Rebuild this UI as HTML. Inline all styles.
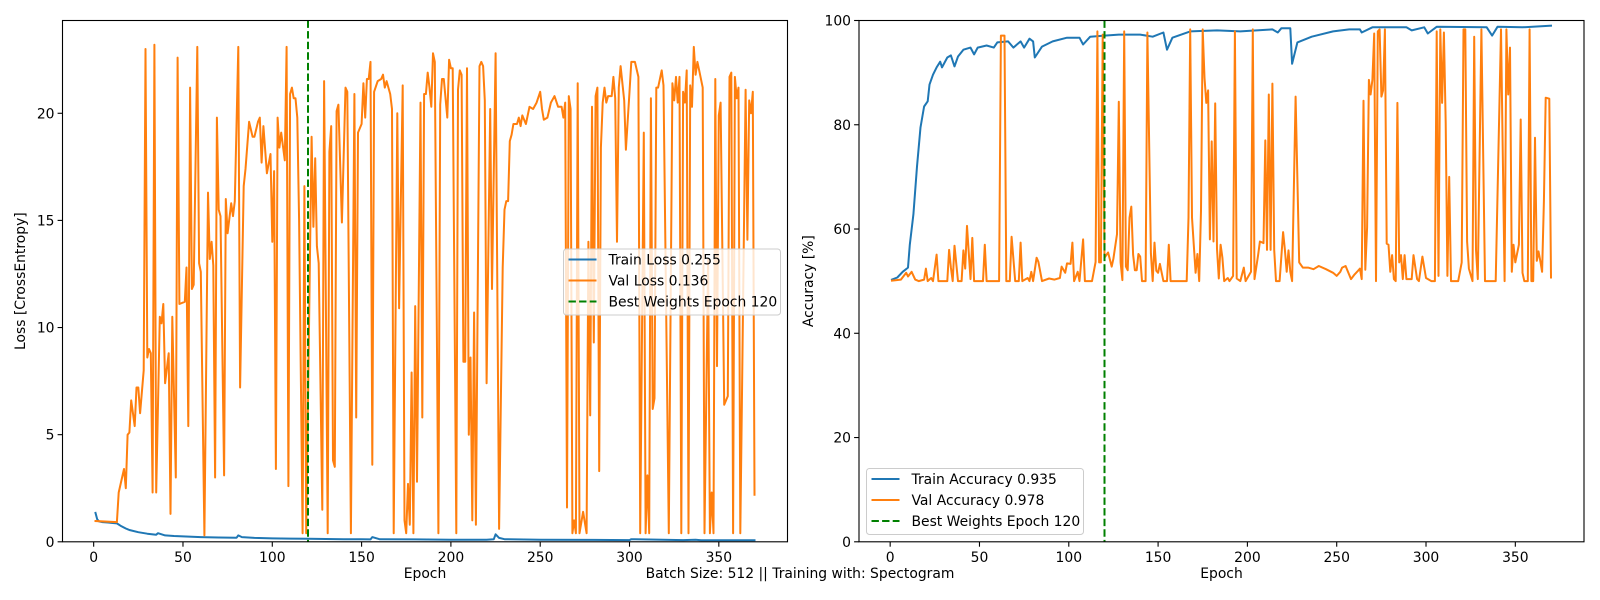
<!DOCTYPE html>
<html><head><meta charset="utf-8"><style>
html,body{margin:0;padding:0;background:#fff;}
svg{display:block;font-family:"DejaVu Sans","Liberation Sans",sans-serif;}
</style></head><body>
<svg id="chart" width="1600" height="600" viewBox="0 0 1600 600" xmlns="http://www.w3.org/2000/svg"></svg>
<script>
// ===== Left chart data (loss) =====
const trainLossEpochs=[1,2,3,5,8,10,13,15,18,20,25,30,35,36,40,45,50,60,70,80,81,83,90,100,110,120,130,140,150,155,156,160,180,200,220,224,225,227,230,250,280,300,301,330,337,340,370];
const trainLossValues=[1.35,1.05,0.95,0.92,0.9,0.88,0.86,0.75,0.62,0.55,0.45,0.38,0.33,0.4,0.3,0.27,0.25,0.22,0.2,0.19,0.3,0.22,0.18,0.16,0.15,0.14,0.13,0.12,0.12,0.11,0.22,0.12,0.11,0.1,0.1,0.12,0.35,0.18,0.12,0.1,0.09,0.08,0.12,0.08,0.1,0.07,0.07];
const valLossEpochs=[1,13,14,17,18,19,20,21,23,24,25,26,28,29,30,31,32,33,34,35,37,38,39,40,42,43,44,46,47,48,51,52,53,54,55,56,58,59,60,62,64,65,66,67,68,69,70,71,73,74,75,77,78,79,81,82,84,85,87,89,90,92,93,94,95,97,99,100,101,102,103,104,105,107,108,109,110,111,112,113,114,115,117,118,119,122,123,124,125,126,128,129,131,132,133,134,135,136,137,139,141,142,144,146,147,148,150,151,152,153,154,155,156,157,159,161,162,163,164,166,167,168,170,171,173,174,175,176,177,178,179,180,181,183,184,185,186,187,188,189,190,191,193,194,195,196,198,199,200,201,203,204,205,206,207,208,209,210,211,212,213,214,216,217,218,219,220,222,223,225,227,229,230,231,232,233,234,235,237,238,239,240,242,244,246,248,250,251,252,254,256,258,260,262,263,264,265,266,267,268,269,270,271,272,274,276,277,278,279,280,281,282,283,284,285,286,287,288,290,291,292,293,294,295,297,298,300,301,303,305,306,308,309,310,311,312,313,314,315,316,318,319,322,324,325,326,327,328,329,330,331,332,333,334,335,336,337,338,339,341,342,344,345,346,347,348,349,350,351,353,355,356,357,358,359,360,361,362,363,365,366,367,368,369,370];
const valLossValues=[0.97,0.92,2.3,3.4,2.5,5.0,5.1,6.6,5.4,7.2,7.2,6.0,8.0,23.0,8.6,9.0,8.8,2.3,23.2,2.3,10.5,10.2,11.1,7.4,8.8,1.3,10.5,3.0,22.6,11.1,11.2,12.8,5.4,21.2,11.8,12.0,23.1,13.0,12.6,0.3,16.3,13.2,14.0,12.9,3.0,19.8,15.5,15.2,3.1,16.0,14.4,15.8,15.2,15.9,23.1,7.2,16.6,17.4,19.6,18.9,18.9,19.6,19.8,17.7,19.4,17.2,18.1,14.0,17.3,3.4,19.8,18.4,19.1,17.8,23.1,2.6,20.9,21.2,20.7,20.7,19.8,15.0,0.4,16.6,0.4,18.9,14.7,17.9,13.8,13.0,1.5,21.5,0.4,18.2,19.4,3.8,3.5,20.1,20.4,14.9,21.2,21.0,0.4,20.9,5.8,19.1,19.5,21.4,19.8,21.6,21.6,22.4,3.6,21.0,21.5,21.6,21.8,21.2,21.5,20.9,20.2,0.4,20.0,10.9,21.3,1.0,0.4,2.7,0.8,7.9,0.4,11.0,2.8,20.5,5.8,20.9,20.9,21.9,21.2,20.3,22.8,22.4,0.4,20.4,21.6,21.6,19.8,22.5,22.1,22.1,0.4,21.1,22.0,21.8,8.4,8.4,22.1,5.0,8.6,1.0,10.7,0.8,22.2,22.4,22.2,20.6,7.4,20.2,11.8,22.8,0.6,12.8,15.5,15.9,15.9,18.7,19.0,19.5,19.5,19.8,19.4,19.9,19.5,20.3,20.2,20.5,21.0,20.2,19.7,19.8,20.5,20.8,20.3,20.3,19.8,20.5,1.6,20.8,20.2,0.4,1.0,0.4,21.4,0.4,1.4,0.4,14.0,5.9,20.3,9.3,20.8,21.2,3.3,18.4,20.5,21.2,20.5,20.8,20.8,21.7,20.7,14.0,21.2,22.2,20.6,18.3,21.0,22.4,22.4,21.7,0.4,19.1,0.4,3.1,0.4,20.7,6.2,6.7,21.2,21.2,22.0,21.3,0.4,21.4,20.6,21.7,20.5,21.7,0.4,21.0,20.5,22.0,0.4,21.3,20.3,23.1,21.8,22.4,22.0,21.2,0.4,13.2,0.4,2.3,0.4,21.6,8.2,19.9,20.5,6.4,6.8,21.7,21.9,0.4,21.7,20.7,21.2,0.4,6.9,21.1,14.1,20.6,20.0,21.0,2.2];
const lossTicks=[0,5,10,15,20];
const epochTicks=[0,50,100,150,200,250,300,350];
const bestEpoch=[120];
// ===== Right chart data (accuracy) =====
const trainAccEpochs=[1,4,7,10,11,13,15,17,19,21,22,24,26,28,29,32,34,36,38,41,45,47,49,54,58,60,66,69,73,75,78,80,81,85,91,99,106,108,112,120,128,140,147,153,155,158,168,183,196,214,217,219,224,225,228,236,248,257,263,264,270,289,292,299,301,306,334,337,340,354,370];
const trainAccValues=[50.3,50.7,51.8,52.6,57,62.8,72,79.5,83.5,84.5,87.7,89.6,91,92.1,91,92.9,93.3,91.2,93.1,94.4,94.8,93.5,94.8,95.2,94.8,95.8,96,94.8,96,94.8,96.5,96,92.9,95,96,96.7,96.7,95.4,96.9,97.1,97.3,97.3,96.9,97.7,94.4,96.7,97.9,98.1,97.9,98.3,97.7,98.5,98.5,91.7,95.8,96.9,97.9,98.3,98.3,97.7,98.7,98.7,98.1,98.7,97.5,98.8,98.7,97.1,98.8,98.7,99.0];
const valAccEpochs=[1,6,9,10,12,14,16,19,20,21,23,24,26,27,32,33,34,35,36,38,40,41,42,43,45,46,47,52,53,54,61,62,64,65,67,68,70,72,73,74,77,78,79,80,82,83,85,89,92,95,96,98,99,101,102,103,105,106,108,109,113,115,116,117,118,119,120,122,124,125,127,128,129,130,131,132,133,134,135,136,137,138,139,140,141,143,144,146,147,148,149,150,151,152,153,155,156,157,166,167,168,169,171,172,173,174,175,176,177,178,179,180,181,182,183,184,185,186,187,189,190,192,193,194,196,198,199,202,203,204,206,207,209,210,211,212,213,214,215,216,218,220,221,222,223,224,225,227,229,231,234,237,240,244,248,250,252,253,255,258,260,262,263,264,265,266,267,268,269,270,271,272,273,274,275,276,277,278,279,280,281,282,283,284,285,286,287,288,289,292,293,295,296,298,300,303,305,306,307,308,309,310,311,312,313,314,318,320,321,322,323,324,326,327,328,329,331,333,339,342,344,345,346,347,348,349,350,352,353,354,355,357,358,359,360,361,362,363,364,365,366,367,369,370];
const valAccValues=[50.1,50.3,51.6,50.9,51.8,50.3,50,50.3,52.4,50,50.6,50,55.1,50,50,56,52.6,50,56.8,50,50,55.9,52.4,60.6,50.4,58.3,50,50,57,50,50,97.1,97.1,50,50,58.5,50,50,57.4,50,50.6,50,51.8,50,54.5,53.7,50,50.5,50.3,50.6,52.8,51.6,53.4,53.3,57.4,50,51.8,50,58,50,50,53.7,97.9,53.6,53.6,97.3,54.5,55.5,52.8,54.3,59,84.4,53.6,50.2,97.9,52.8,52.1,62.2,64.3,55.1,52.1,52.1,55.2,54.7,50,50,97.7,55.3,50,57.4,52,51.6,53.3,51.6,50,50,57,50,50,62.2,98.3,62.2,51.6,55.2,50,63.5,98.3,89,84.2,86.6,58,76.8,57.6,84.1,56.2,50.5,57,54.5,50,50.6,50,51,97.9,50.5,50,52.6,50,51.8,98.3,50.4,55,57.6,57.3,77,56,85.8,56,87.9,56,50,50,59.4,56,51.8,55.9,51.8,50,85.4,53.6,52.6,52.6,52.3,52.9,52.3,51.6,51,51.8,52.6,52.9,50.4,51.3,52,52.4,50.4,84.6,52.2,60.3,88.6,85.8,88.6,97.5,50,97.9,98.3,85.4,86.6,98.3,57.2,57,51.8,55,50.4,50,84.2,53.6,55,50.4,55,50.4,50.4,55,50.4,50,54.7,50.6,50,50,97.9,51,98.3,84.2,97.7,80.4,51,70,50,50,53.6,98.3,98.3,57.6,52.4,50,96.9,56,50.4,98.3,50,50,98.3,50,98.3,85.8,94.8,51.8,57,53.6,57,81,51.6,50,50,98.3,50,50,77.5,53.9,55.7,53.9,51.8,65.3,85.2,85,50.7];
const accTicks=[0,20,40,60,80,100];

const NS='http://www.w3.org/2000/svg';
const svg=document.getElementById('chart');
function mk(tag,attrs,parent){const e=document.createElementNS(NS,tag);for(const k in attrs)e.setAttribute(k,attrs[k]);(parent||svg).appendChild(e);return e;}

function drawPanel(cfg){
  const L=cfg.left,R=cfg.left+725,T=20.5,B=541.8;
  const g=mk('g',{});
  
  
  const xs=v=>L+(v-(-17.45))/(388.45+17.45)*(R-L);
  const ys=v=>B-(v-cfg.ymin)/(cfg.ymax-cfg.ymin)*(B-T);
  const clip=mk('clipPath',{id:cfg.name+'-clip'},g);
  mk('rect',{x:L,y:T,width:R-L,height:B-T},clip);
  const plot=mk('g',{'clip-path':'url(#'+cfg.name+'-clip)'},g);
  
  
  cfg.series.forEach(s=>{
    const pts=s.x.map((e,i)=>xs(e).toFixed(1)+','+ys(s.y[i]).toFixed(1)).join(' ');
    const pl=mk('polyline',{points:pts,fill:'none',stroke:s.color,'stroke-width':2,'stroke-linejoin':'round','stroke-linecap':'square'},plot);
    
    
  });
  bestEpoch.forEach(b=>{
    const ln=mk('line',{x1:xs(b),x2:xs(b),y1:T,y2:B,stroke:'#008000','stroke-width':2,'stroke-dasharray':'7.4,3.2'},plot);
    
    
  });
  const fr=mk('rect',{x:L,y:T,width:R-L,height:B-T,fill:'none',stroke:'#000','stroke-width':1.1},g);
  
  
  epochTicks.forEach(t=>{
    const x=xs(t);
    mk('line',{x1:x,x2:x,y1:B,y2:B+4.9,stroke:'#000','stroke-width':1.1},g);
    const tx=mk('text',{x:x,y:B+20,'text-anchor':'middle','font-size':13.9,fill:'#000'},g);
    tx.textContent=t;
    
    
  });
  cfg.yticks.forEach(t=>{
    const y=ys(t);
    mk('line',{x1:L-4.9,x2:L,y1:y,y2:y,stroke:'#000','stroke-width':1.1},g);
    const tx=mk('text',{x:L-8,y:y+5,'text-anchor':'end','font-size':13.9,fill:'#000'},g);
    tx.textContent=t;
    
    
  });
  const xl=mk('text',{x:(L+R)/2,y:578,'text-anchor':'middle','font-size':13.9},g);
  xl.textContent='Epoch';
  
  
  const yl=mk('text',{x:0,y:0,'text-anchor':'middle','font-size':13.9,transform:'translate('+cfg.ylabelX+','+((T+B)/2)+') rotate(-90)'},g);
  yl.textContent=cfg.ylabel;
  
  
  const lg=mk('g',{},g);
  
  
  const lx=cfg.legend.x,ly=cfg.legend.y;
  mk('rect',{x:lx,y:ly,width:cfg.legend.w,height:66,rx:3,fill:'#fff','fill-opacity':0.8,stroke:'#ccc','stroke-width':1},lg);
  cfg.legend.items.forEach((it,i)=>{
    const yy=ly+10.5+i*21;
    const h=mk('line',{x1:lx+5,x2:lx+33,y1:yy,y2:yy,stroke:it.color,'stroke-width':2},lg);
    if(it.dash)h.setAttribute('stroke-dasharray','7.4,3.2');
    const tx=mk('text',{x:lx+45,y:yy+5,'font-size':13.9},lg);
    tx.textContent=it.label;
    
    
  });
}

drawPanel({name:'loss-chart',left:62.5,ymin:0,ymax:24.33,yticks:lossTicks,ylabel:'Loss [CrossEntropy]',ylabelX:25,
  series:[{name:'train-loss-line',x:trainLossEpochs,y:trainLossValues,color:'#1f77b4'},{name:'val-loss-line',x:valLossEpochs,y:valLossValues,color:'#ff7f0e'}],
  legend:{x:563.5,y:249,w:217,items:[{label:'Train Loss 0.255',color:'#1f77b4'},{label:'Val Loss 0.136',color:'#ff7f0e'},{label:'Best Weights Epoch 120',color:'#008000',dash:true}]}});
drawPanel({name:'accuracy-chart',left:859,ymin:0,ymax:100,yticks:accTicks,ylabel:'Accuracy [%]',ylabelX:813,
  series:[{name:'train-accuracy-line',x:trainAccEpochs,y:trainAccValues,color:'#1f77b4'},{name:'val-accuracy-line',x:valAccEpochs,y:valAccValues,color:'#ff7f0e'}],
  legend:{x:866.5,y:468.5,w:217,items:[{label:'Train Accuracy 0.935',color:'#1f77b4'},{label:'Val Accuracy 0.978',color:'#ff7f0e'},{label:'Best Weights Epoch 120',color:'#008000',dash:true}]}});

const cap=mk('text',{x:800,y:578,'text-anchor':'middle','font-size':13.9});
cap.textContent='Batch Size: 512 || Training with: Spectogram';


</script>
</body></html>
